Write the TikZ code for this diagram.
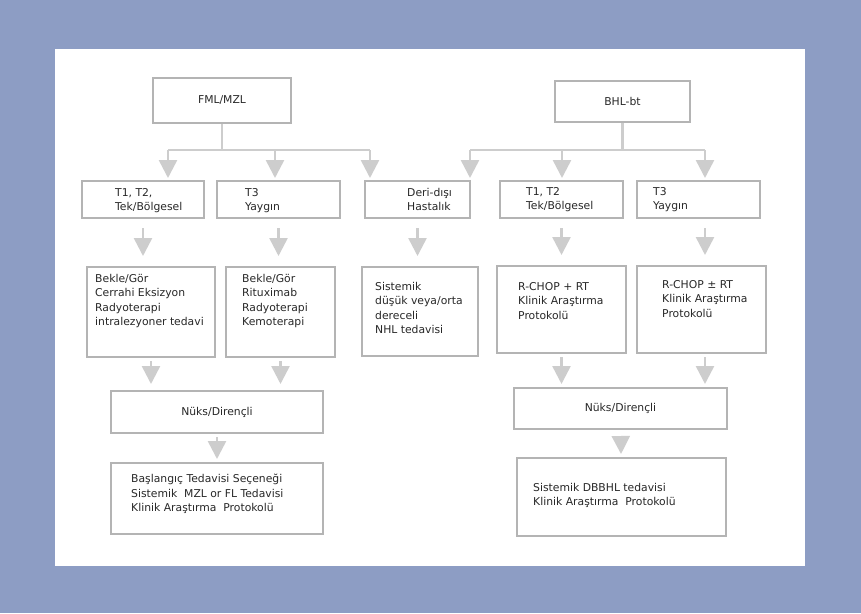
\documentclass[tikz,border=0pt]{standalone}
\usepackage{fontspec}
\setmainfont{DejaVu Sans}
\usepackage{tikz}
\usetikzlibrary{arrows.meta, positioning, calc}
\definecolor{lyback}{RGB}{141,157,196}
\definecolor{lyframe}{RGB}{180,180,180}
\definecolor{lyarrow}{RGB}{205,205,205}
\definecolor{lytext}{RGB}{40,40,40}

\begin{document}
\begin{tikzpicture}[x=1pt, y=-1pt,
  every node/.style={font=\fontsize{10.8}{14.5}\selectfont, text=lytext},
  box/.style={rectangle, draw=lyframe, line width=2pt, fill=white,
              inner sep=0pt, align=center},
  txt/.style={anchor=north west, inner sep=0pt, align=left},
  conn/.style={draw=lyarrow, line width=2.5pt},
  arrow/.style={conn, -{Triangle[width=18pt, length=18pt]}},
]

% ── page ──
\fill[lyback] (0,0) rectangle (861,613);
\fill[white] (55,49) rectangle (805,566);

% ── top level ──
\node[box, minimum width=138pt, minimum height=45pt] (fml) at (222,100.5) {FML/MZL};
\node[box, minimum width=135pt, minimum height=41pt] (bhl) at (622.5,101.5) {BHL-bt};

% ── stage row ──
\node[box, minimum width=122pt, minimum height=37pt] (t12a) at (143,199.5) {};
\node[box, minimum width=123pt, minimum height=37pt] (t3a)  at (278.5,199.5) {};
\node[box, minimum width=105pt, minimum height=37pt] (deri) at (417.5,199.5) {};
\node[box, minimum width=123pt, minimum height=37pt] (t12b) at (561.5,199.5) {};
\node[box, minimum width=123pt, minimum height=37pt] (t3b)  at (698.5,199.5) {};
\node[txt] (t12a-t) at (115,188) {T1, T2,\\Tek/Bölgesel};
\node[txt] (t3a-t)  at (245,188) {T3\\Yaygın};
\node[txt] (deri-t) at (407,188) {Deri-dışı\\Hastalık};
\node[txt] (t12b-t) at (526,187) {T1, T2\\Tek/Bölgesel};
\node[txt] (t3b-t)  at (653,187) {T3\\Yaygın};

% ── therapy row ──
\node[box, minimum width=128pt, minimum height=90pt] (tra) at (151,312) {};
\node[box, minimum width=109pt, minimum height=90pt] (trb) at (280.5,312) {};
\node[box, minimum width=116pt, minimum height=89pt] (trc) at (420,311.5) {};
\node[box, minimum width=129pt, minimum height=87pt] (trd) at (561.5,309.5) {};
\node[box, minimum width=129pt, minimum height=87pt] (tre) at (701.5,309.5) {};
\node[txt] (tra-t) at (95,274)  {Bekle/Gör\\Cerrahi Eksizyon\\Radyoterapi\\intralezyoner tedavi};
\node[txt] (trb-t) at (242,274) {Bekle/Gör\\Rituximab\\Radyoterapi\\Kemoterapi};
\node[txt] (trc-t) at (375,282) {Sistemik\\düşük veya/orta\\dereceli\\NHL tedavisi};
\node[txt] (trd-t) at (518,282) {R-CHOP + RT\\Klinik Araştırma\\Protokolü};
\node[txt] (tre-t) at (662,280) {R-CHOP ± RT\\Klinik Araştırma\\Protokolü};

% ── relapse ──
\node[box, minimum width=212pt, minimum height=42pt] (nka) at (217,412) {Nüks/Dirençli};
\node[box, minimum width=213pt, minimum height=41pt] (nkb) at (620.5,408.5) {Nüks/Dirençli};
\node[box, minimum width=212pt, minimum height=71pt] (sona) at (217,498.5) {};
\node[box, minimum width=209pt, minimum height=78pt] (sonb) at (621.5,497) {};
\node[txt] (sona-t) at (131,474) {Başlangıç Tedavisi Seçeneği\\Sistemik\ \ MZL or FL Tedavisi\\Klinik Araştırma\ \ Protokolü};
\node[txt] (sonb-t) at (533,483) {Sistemik DBBHL tedavisi\\Klinik Araştırma\ \ Protokolü};

% ── brackets ──
\coordinate (bl1) at (168,150);
\coordinate (bl2) at (275,150);
\coordinate (bl3) at (370,150);
\coordinate (br1) at (470,150);
\coordinate (br2) at (562,150);
\coordinate (br3) at (705,150);
\draw[conn] (fml.south) -- (fml.south |- bl1);
\draw[conn] (bhl.south) -- (bhl.south |- br1);
\draw[conn] (bl1) -- (bl3);
\draw[conn] (br1) -- (br3);
\foreach \c/\b in {bl1/t12a, bl2/t3a, bl3/deri, br1/deri, br2/t12b, br3/t3b}
  \draw[arrow, shorten >=2pt] (\c) -- (\c |- \b.north);

% ── arrows down ──
\foreach \a/\b in {t12a/tra, t3a/trb, deri/trc, t12b/trd}
  \draw[arrow, shorten <=9pt, shorten >=10pt] (\a.south) -- (\a.south |- \b.north);
\draw[arrow, shorten <=9pt, shorten >=10pt] (t3b.south -| br3) -- (tre.north -| br3);
\foreach \a in {tra, trb}
  \draw[arrow, shorten <=3pt, shorten >=6pt] (\a.south) -- (\a.south |- nka.north);
\draw[arrow, shorten <=3pt, shorten >=3pt] (trd.south) -- (trd.south |- nkb.north);
\draw[arrow, shorten <=3pt, shorten >=3pt] (tre.south -| br3) -- (nkb.north -| br3);
\draw[arrow, shorten <=3pt, shorten >=3pt] (nka) -- (sona);
\draw[arrow, shorten <=6pt, shorten >=3pt] (nkb) -- (sonb);

\end{tikzpicture}
\end{document}
